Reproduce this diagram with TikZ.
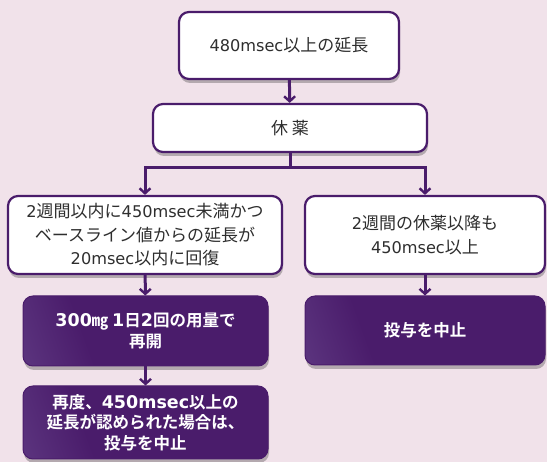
\documentclass[tikz,border=0pt]{standalone}
\usepackage{fontspec}
\setmainfont{Noto Sans CJK JP}[BoldFont={Noto Sans CJK JP Bold}]
\newfontfamily\lat{DejaVu Sans}[Scale=0.95]
\newfontfamily\latb{DejaVu Sans}[Scale=1.06]
\newcommand\la[1]{{\lat #1}}
\newcommand\lb[1]{{\latb #1}}
\usetikzlibrary{arrows.meta,shadows}
\definecolor{bg}{HTML}{F1E2EA}
\definecolor{dpur}{HTML}{4A1C6B}
\definecolor{lpur}{HTML}{6E4E93}
\pgfdeclarehorizontalshading{purshade}{100bp}{color(0bp)=(lpur); color(35bp)=(dpur); color(100bp)=(dpur)}
\tikzset{
  wbox/.style={draw=dpur, line width=2.2pt, fill=white, rounded corners=10pt,
    align=center, font=\fontsize{17}{23.5}\selectfont, text=black!82,
    drop shadow={shadow xshift=1pt, shadow yshift=-4pt, opacity=0.25, fill=black}},
  pbox/.style={draw=dpur, line width=1pt, shading=purshade, shading angle=20, rounded corners=10pt,
    align=center, font=\fontsize{16.5}{20.5}\selectfont\bfseries, text=white,
    drop shadow={shadow xshift=1pt, shadow yshift=-4pt, opacity=0.25, fill=black}},
  arr/.style={draw=dpur, line width=3pt, -{Straight Barb[length=5pt,width=11pt,line width=2.4pt]}},
}
\begin{document}
\begin{tikzpicture}[x=1pt,y=-1pt]
\useasboundingbox (0,0) rectangle (547,462);
\fill[bg] (0,0) rectangle (547,462);
\node[wbox, minimum width=220pt, minimum height=67pt] (b1) at (289,45.5) {\la{480msec}以上の延長};
\node[wbox, minimum width=274pt, minimum height=48pt] (b2) at (290,128) {休 薬};
\node[wbox, minimum width=274pt, minimum height=78pt] (l1) at (145,235) {\la{2}週間以内に\la{450msec}未満かつ\\ベースライン値からの延長が\\\la{20msec}以内に回復};
\node[wbox, minimum width=240pt, minimum height=78pt] (r1) at (425,235) {\la{2}週間の休薬以降も\\\la{450msec}以上};
\node[pbox, minimum width=245pt, minimum height=70pt] (l2) at (145.5,331) {\lb{300}㎎ \lb{1}日\lb{2}回の用量で\\再開};
\node[pbox, minimum width=240pt, minimum height=69pt] (r2) at (425,330.5) {投与を中止};
\node[pbox, minimum width=245pt, minimum height=73pt] (l3) at (145.5,422.5) {再度、\lb{450msec}以上の\\延長が認められた場合は、\\投与を中止};
\coordinate (j) at (b2.south |- 0,168);
\draw[arr] (b1) -- (b2);
\draw[draw=dpur, line width=3pt] (b2.south) -- (j);
\draw[arr] (j) -| (l1.north);
\draw[arr] (j) -| (r1.north);
\draw[arr] (l1) -- (l2);
\draw[arr] (r1) -- (r2);
\draw[arr] (l2) -- (l3);
\end{tikzpicture}
\end{document}
